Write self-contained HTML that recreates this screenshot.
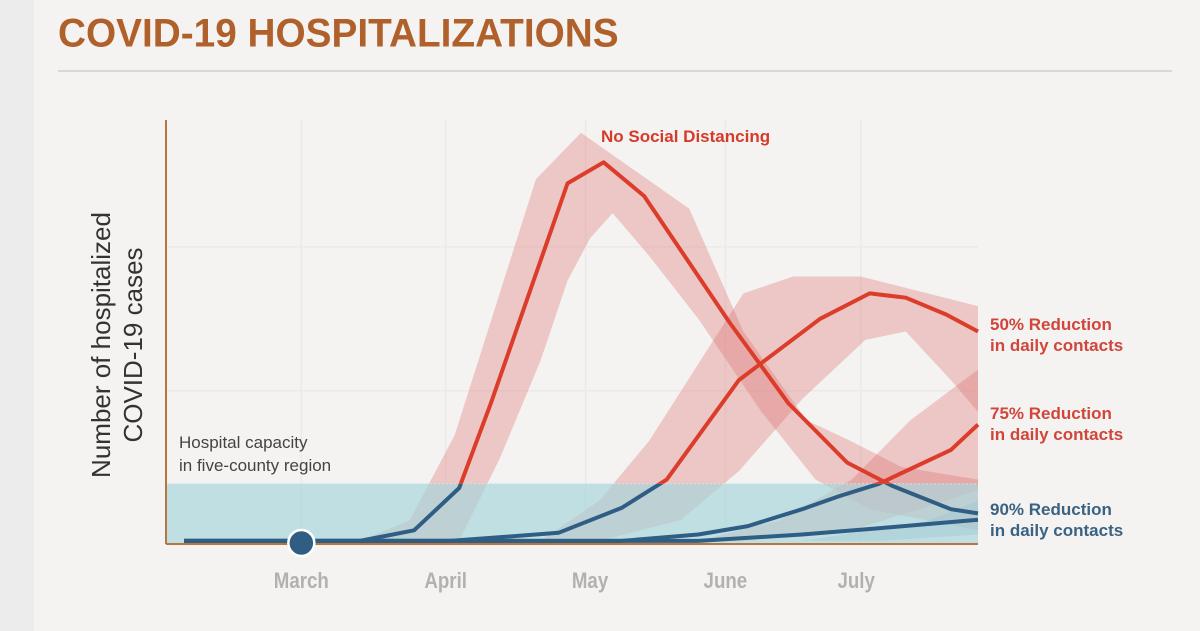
<!DOCTYPE html>
<html><head><meta charset="utf-8"><style>
body{margin:0;width:1200px;height:631px;background:#ececec;overflow:hidden;font-family:"Liberation Sans",sans-serif}
#panel{position:absolute;left:34px;top:0;width:1166px;height:631px;background:#f4f3f1}
#title{position:absolute;left:58px;top:12px;font-weight:bold;font-size:38px;color:#b0602a;transform-origin:0 0;transform:scale(1.02,1.05);white-space:nowrap}
#rule{position:absolute;left:58px;top:70px;width:1114px;height:2px;background:#d9d8d6}
svg{position:absolute;left:0;top:0}
</style></head><body>
<div id="panel"></div>
<div id="title">COVID-19 HOSPITALIZATIONS</div>
<div id="rule"></div>
<svg id="chart" width="1200" height="631"></svg>
<script>
const monthLabels=["March","April","May","June","July"];
const monthDays=[30,62,94,124,153];
const capacity=14;
const nsdDays=[4,43,55,65,72,89,97,106,125,138,151,161,174,180];
const nsdVals=[0.5,0.5,3,13,33,85,90,82,52,33,19,13.5,8,7];
const nsdUpDays=[43,54,64,82,92,116,128,142,152,163,180];
const nsdUpVals=[0.5,5.4,25.5,86,97,79,50,29,24,18,15];
const nsdLoDays=[65,74,83,89,94,99,107,118,132,144,156,180];
const nsdLoVals=[0.5,20,43,62,72,78,68,53,31,15,8,3];
const r50Days=[4,63,87,101,111,127,145,156,164,173,180];
const r50Vals=[0.5,0.5,2.4,8.3,15,38.5,53,59,58,54,50];
const r50UpDays=[83,96,107,128,139,154,180];
const r50UpVals=[0.5,10,24,59,63,63,56];
const r50LoDays=[96,114,127,141,155,164,174,180];
const r50LoVals=[0.5,5.4,17,34,48,50,38.5,31];
const r75Days=[4,101,118,129,141,149,158,174,180];
const r75Vals=[0.5,0.5,2,4,8,11,14,22,28];
const r75UpDays=[118,136,152,165,180];
const r75UpVals=[0.5,5.4,15,29,41];
const r75LoDays=[129,152,167,180];
const r75LoVals=[0.5,3,8,12.5];
const r90Days=[4,118,141,158,180];
const r90Vals=[0.5,0.5,2,3.5,5.5];
const r90UpDays=[141,168,180];
const r90UpVals=[0.5,5,10];
const r90LoDays=[158,180];
const r90LoVals=[0.5,2];
const markerDay=30;

const X0=166,X1=978,Y0=543,Y1=120;
const xs=d=>X0+d*(X1-X0)/180;
const ys=v=>Y0-v*(Y0-Y1)/100;
const svg=document.getElementById('chart');
const NS='http://www.w3.org/2000/svg';
function mk(tag,attrs,parent){const e=document.createElementNS(NS,tag);for(const k in attrs)e.setAttribute(k,attrs[k]);(parent||svg).appendChild(e);return e;}
const pts=(ds,vs)=>ds.map((d,i)=>xs(d).toFixed(1)+','+ys(vs[i]).toFixed(1));

[30,62,93,124,154].forEach(d=>{const g=mk('line',{x1:xs(d),x2:xs(d),y1:Y1,y2:Y0,stroke:'#ebeae8','stroke-width':1.5});

});
[36,70].forEach(v=>{const g=mk('line',{x1:X0,x2:X1,y1:ys(v),y2:ys(v),stroke:'#ebeae8','stroke-width':1.5});

});

const defs=mk('defs',{});
const ca=mk('clipPath',{id:'above'},defs);mk('rect',{x:0,y:0,width:1200,height:ys(capacity)},ca);
const cb=mk('clipPath',{id:'below'},defs);mk('rect',{x:0,y:ys(capacity),width:1200,height:200},cb);

function band(ud,uv,ld,lv,fill,name){
  const p=pts(ud,uv).concat(pts(ld,lv).reverse());
  const e=mk('polygon',{points:p.join(' '),fill:fill});
  
  
}
band(nsdUpDays,nsdUpVals,nsdLoDays,nsdLoVals,'rgba(222,110,110,0.33)','no-distancing-band');
band(r50UpDays,r50UpVals,r50LoDays,r50LoVals,'rgba(222,110,110,0.33)','reduction-50-band');
band(r75UpDays,r75UpVals,r75LoDays,r75LoVals,'rgba(222,110,110,0.33)','reduction-75-band');
band(r90UpDays,r90UpVals,r90LoDays,r90LoVals,'rgba(60,110,150,0.25)','reduction-90-band');

const cap=mk('rect',{x:X0,y:ys(capacity),width:X1-X0,height:Y0-ys(capacity),fill:'rgba(170,214,219,0.7)'});


mk('line',{x1:X0,x2:X1,y1:ys(capacity),y2:ys(capacity),stroke:'#cfe3e5','stroke-width':1,'stroke-dasharray':'2,2'});

function line(ds,vs,name){
  const p=pts(ds,vs).join(' ');
  const b=mk('polyline',{points:p,fill:'none',stroke:'#2f5d84','stroke-width':4,'stroke-linejoin':'round','clip-path':'url(#below)'});
  
  
  const r=mk('polyline',{points:p,fill:'none',stroke:'#dc3d2a','stroke-width':4,'stroke-linejoin':'round','clip-path':'url(#above)'});
  
  
}
line(r90Days,r90Vals,'reduction-90-line');
line(r75Days,r75Vals,'reduction-75-line');
line(r50Days,r50Vals,'reduction-50-line');
line(nsdDays,nsdVals,'no-distancing-line');

const ya=mk('line',{x1:X0,x2:X0,y1:Y1,y2:Y0+1,stroke:'#b5773f','stroke-width':2});


const xa=mk('line',{x1:X0,x2:X1,y1:Y0+1,y2:Y0+1,stroke:'#b5773f','stroke-width':2});



const m=mk('circle',{cx:xs(markerDay),cy:Y0,r:13,fill:'#2f5d84',stroke:'#fff','stroke-width':2.5});



monthLabels.forEach((t,i)=>{const e=mk('text',{x:xs(monthDays[i]),y:588,'text-anchor':'middle','font-size':22,'font-weight':'bold',fill:'#b3b1ae',transform:'translate('+xs(monthDays[i])*0.15+',0) scale(0.85,1)'});e.textContent=t;

});

function txt(lines,x,y,fill,size,name,weight,lh){
  const e=mk('text',{x:x,y:y,fill:fill,'font-size':size,'font-weight':weight||'normal'});
  lines.forEach((l,i)=>{const s=mk('tspan',{x:x,dy:i?lh:0},e);s.textContent=l;});
  
  
  return e;
}
txt(['No Social Distancing'],601,142,'#d63a2a',17,'no-distancing-label','bold');
txt(['50% Reduction','in daily contacts'],990,330,'#d0463a',17,'reduction-50-label','bold',21);
txt(['75% Reduction','in daily contacts'],990,419,'#d0463a',17,'reduction-75-label','bold',21);
txt(['90% Reduction','in daily contacts'],990,515,'#3a6283',17,'reduction-90-label','bold',21);
txt(['Hospital capacity','in five-county region'],179,448,'#444',17,'capacity-label','normal',23);

const yt=mk('text',{transform:'translate(110,345) rotate(-90)','text-anchor':'middle',fill:'#333','font-size':26});
['Number of hospitalized','COVID-19 cases'].forEach((l,i)=>{const s=mk('tspan',{x:0,dy:i?32:0},yt);s.textContent=l;});


</script>
</body></html>
